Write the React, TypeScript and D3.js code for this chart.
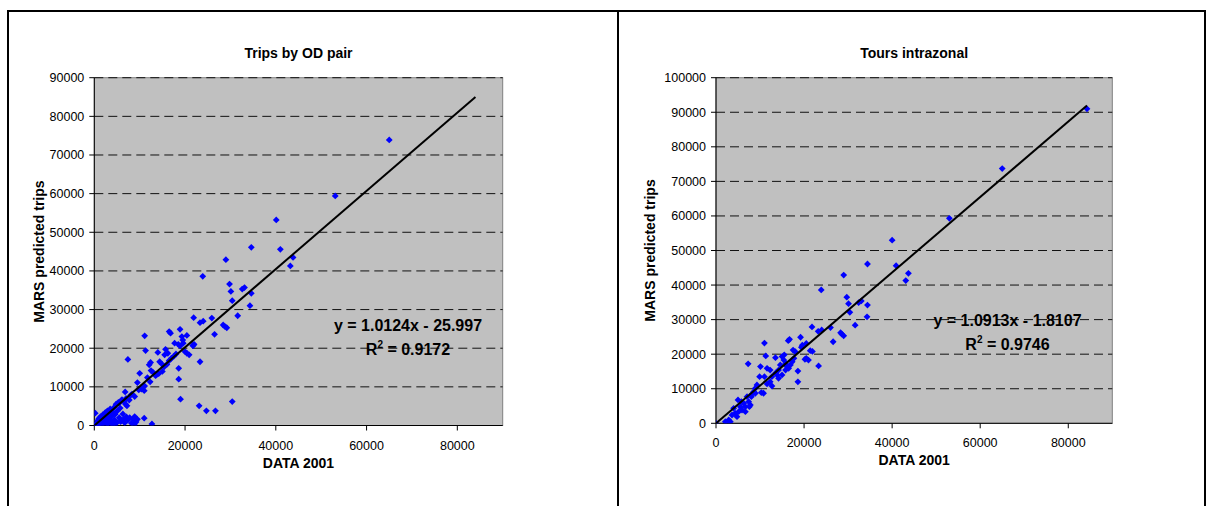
import React from 'react';
import * as d3 from 'd3';

// Trips by OD pair: observed (DATA 2001) vs MARS predicted
const odObserved = [
  84000, 65000, 53100, 40100, 41000, 43800, 43200, 34600, 29000, 23900,
  29800, 30100, 32600, 33100, 34600, 30400, 34300, 31600, 21900, 23300,
  24000, 25900, 28400, 28800, 29200, 26500, 18900, 20400, 19300, 19500,
  17700, 18500, 18900, 21800, 11300, 14000, 15700, 15500, 16200, 20400,
  20900, 17000, 7400, 12400, 12100, 14400, 14900, 15400, 23300, 18600,
  12500, 13000, 13700, 10000, 11700, 12300, 18600, 9500, 10400, 11100,
  6800, 8300, 8900, 19000, 30400, 23100, 24700, 26700, 7200, 7700,
  6500, 11100, 16500, 16800, 22000, 21700, 20000, 19600, 13500, 14200,
  15000, 16000, 16500, 17500, 18000, 11000, 9800, 8000, 7000, 6000,
  5500,
  0, 200, 300, 500, 700, 900, 1000, 1200, 1400, 1500,
  1700, 1900, 2000, 2200, 2400, 2500, 2700, 2900, 3000, 3100,
  3300, 3500, 3600, 3800, 4000, 4100, 4300, 4400, 4600, 4800,
  5000, 5100, 5300, 5500, 5700, 6000, 6100, 6300, 6600, 6900,
  7100, 7400, 7800, 8200, 8600, 8900, 9200, 9500, 8800, 11000,
  12700, 4500, 2600, 1300, 600, 3700, 5800, 6700,
];
const odPredicted = [
  91000, 73900, 59400, 53200, 45600, 43500, 41300, 46100, 42900, 38600,
  36600, 34700, 35300, 35700, 34200, 32300, 31000, 28400, 27900, 26600,
  27000, 27800, 26000, 25600, 25300, 23600, 24900, 23300, 23000, 22100,
  21300, 21000, 20600, 20700, 19400, 18900, 19700, 18300, 18700, 18700,
  18300, 17400, 17100, 16300, 15700, 16500, 15900, 15200, 16500, 14800,
  14200, 13700, 13100, 13500, 12400, 11300, 12000, 11100, 9400, 10200,
  8700, 8100, 7500, 6800, 6200, 5100, 3800, 3800, 5100, 6600,
  6200, 23200, 24300, 23900, 21000, 20700, 19100, 21300, 12900, 13400,
  14000, 15800, 16800, 17900, 18500, 9000, 9200, 7800, 7000, 6500,
  5800,
  0, 3200, 200, 600, 1200, 300, 1800, 900, 2300, 400,
  1500, 2800, 700, 2000, 3300, 1200, 2600, 3800, 400, 1800,
  3000, 4300, 1000, 2400, 3500, 200, 4600, 1500, 2900, 5500,
  800, 3800, 6000, 2000, 4500, 1300, 6700, 3000, 1800, 5500,
  2200, 1400, 2000, 600, 1700, 2300, 900, 1600, 200, 1900,
  400, 100, 100, 100, 0, 600, 1000, 700,
];

// Tours intrazonal: observed (DATA 2001) vs MARS predicted
const tourObserved = [
  0, 84250, 65000, 53000, 40000, 40900, 43700, 43100, 34400, 29000,
  23900, 29700, 30100, 33000, 32400, 34400, 30400, 34300, 31600, 21800,
  23200, 24000, 26000, 28300, 28600, 29000, 26600, 11000, 16400, 16700,
  19200, 20500, 19600, 19400, 17500, 18000, 21400, 21900, 11300, 13500,
  15000, 15500, 20500, 21000, 20200, 23300, 18600, 7300, 10100, 11600,
  12300, 15400, 15800, 16100, 16900, 14600, 14200, 13500, 12700, 13900,
  16500, 17300, 17700, 14200, 15000, 15800, 18600, 9900, 11000, 12300,
  11600, 12700, 9300, 8900, 10300, 10800, 8570, 8030, 7420, 6670,
  6290, 5910, 5150, 4770, 3640, 2880, 2500, 3260, 4390, 5530,
  7050, 7800, 7580, 6670, 8180, 2120, 4010, 5000, 5760, 8940,
];
const tourPredicted = [
  0, 91000, 73700, 59300, 53000, 45600, 43400, 41300, 46100, 42900,
  38600, 36500, 34600, 35400, 34900, 34200, 32100, 30800, 28400, 27900,
  26600, 27000, 27700, 26200, 25800, 25300, 23600, 23200, 23900, 24300,
  24900, 23100, 22600, 22000, 21200, 20700, 21000, 20800, 19500, 19000,
  19300, 19800, 18800, 18300, 18500, 16600, 15100, 17200, 16400, 15900,
  15400, 18300, 17400, 16400, 16900, 16900, 15400, 14500, 13500, 14000,
  15900, 17800, 18800, 13000, 14000, 15400, 12000, 13500, 13500, 12000,
  11400, 10800, 11100, 10100, 8900, 8700, 9150, 7700, 6260, 4820,
  5780, 3850, 3370, 1920, 2400, 960, 190, 480, 2890, 4820,
  7700, 5290, 4820, 3370, 8480, 480, 4340, 6750, 6260, 8680,
];

const xTickValues = [0, 20000, 40000, 60000, 80000];

const FONT = "Arial, 'Liberation Sans', Helvetica, sans-serif";

function Panel({ id, title, xs, ys, yMax, left, right, top, bottom, slope, intercept, eq, r2, eqX, eqY, yTitleX }) {
  const x = d3.scaleLinear().domain([0, 90000]).range([left, right]);
  const y = d3.scaleLinear().domain([0, yMax]).range([bottom, top]);
  const yTicks = d3.range(0, yMax + 1, 10000);
  const xMax = d3.max(xs);
  const cx = (left + right) / 2;
  const cy = (top + bottom) / 2;
  const r = 3.4;
  const diamond = `M0,${-r}L${r},0L0,${r}L${-r},0Z`;

  return (
    <g>
      <defs>
        <clipPath id={id}>
          <rect x={left} y={top} width={right - left} height={bottom - top} />
        </clipPath>
      </defs>
      <rect x={left} y={top} width={right - left} height={bottom - top} fill="#c0c0c0" stroke="#808080" />
      {yTicks.slice(1).map(t => (
        <line key={t} x1={left} x2={right} y1={y(t)} y2={y(t)} stroke="#111" strokeDasharray="9,5" />
      ))}
      {/* axes */}
      <line x1={left} x2={left} y1={top} y2={bottom} stroke="#000" />
      <line x1={left} x2={right} y1={bottom} y2={bottom} stroke="#000" />
      {yTicks.map(t => (
        <g key={t}>
          <line x1={left - 5} x2={left} y1={y(t)} y2={y(t)} stroke="#000" />
          <text x={left - 10} y={y(t) + 4.5} textAnchor="end" fontSize={12.5} fontFamily={FONT} fill="#000">{t}</text>
        </g>
      ))}
      {xTickValues.map(t => (
        <g key={t}>
          <line x1={x(t)} x2={x(t)} y1={bottom} y2={bottom + 5} stroke="#000" />
          <text x={x(t)} y={bottom + 24} textAnchor="middle" fontSize={12.5} fontFamily={FONT} fill="#000">{t}</text>
        </g>
      ))}
      <g clipPath={`url(#${id})`}>
        {xs.map((v, i) => (
          <path key={i} d={diamond} transform={`translate(${x(v)},${y(ys[i])})`} fill="#0000ff" />
        ))}
        <line x1={x(0)} y1={y(intercept)} x2={x(xMax)} y2={y(slope * xMax + intercept)} stroke="#000" strokeWidth={2} />
      </g>
      <text x={cx} y={58} textAnchor="middle" fontSize={14} fontWeight="bold" fontFamily={FONT}>{title}</text>
      <text x={cx} y={bottom + 42} textAnchor="middle" fontSize={14} fontWeight="bold" fontFamily={FONT}>DATA 2001</text>
      <text transform={`translate(${yTitleX},${cy}) rotate(-90)`} textAnchor="middle" fontSize={14} fontWeight="bold" fontFamily={FONT}>MARS predicted trips</text>
      <text x={eqX} y={eqY} textAnchor="middle" fontSize={16} fontWeight="bold" fontFamily={FONT}>{eq}</text>
      <text x={eqX} y={eqY + 24} textAnchor="middle" fontSize={16} fontWeight="bold" fontFamily={FONT}>
        R<tspan fontSize={10} dy={-7}>2</tspan><tspan dy={7}>{` = ${r2}`}</tspan>
      </text>
    </g>
  );
}

export default function App() {
  return (
    <svg width={1214} height={506} style={{ position: 'absolute', left: 0, top: 0, background: '#fff' }}>
      {/* frame */}
      <line x1={8} x2={1206} y1={11} y2={11} stroke="#000" strokeWidth={2} />
      <line x1={8} x2={8} y1={10} y2={506} stroke="#000" strokeWidth={2} />
      <line x1={618} x2={618} y1={10} y2={506} stroke="#000" strokeWidth={2} />
      <line x1={1205} x2={1205} y1={10} y2={506} stroke="#000" strokeWidth={2} />
      <Panel
        id="clip-od" title="Trips by OD pair" xs={odObserved} ys={odPredicted} yMax={90000}
        left={94.3} right={502.7} top={77.7} bottom={425.5}
        slope={1.0124} intercept={-25.997} eq="y = 1.0124x - 25.997" r2="0.9172"
        eqX={408} eqY={331} yTitleX={44}
      />
      <Panel
        id="clip-tour" title="Tours intrazonal" xs={tourObserved} ys={tourPredicted} yMax={100000}
        left={716} right={1112.3} top={77.7} bottom={423.3}
        slope={1.0913} intercept={-1.8107} eq="y = 1.0913x - 1.8107" r2="0.9746"
        eqX={1007.5} eqY={326} yTitleX={655}
      />
    </svg>
  );
}
